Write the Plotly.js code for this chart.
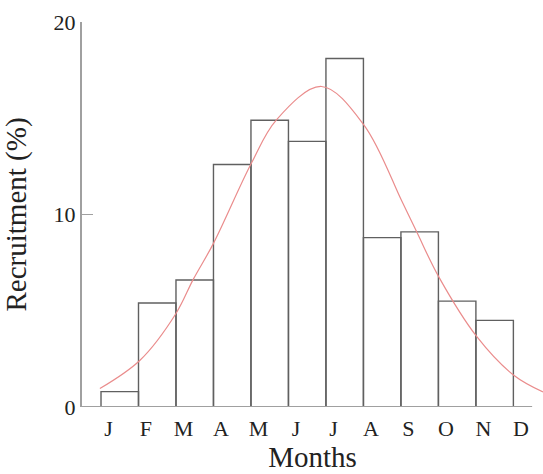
<!DOCTYPE html>
<html>
<head>
<meta charset="utf-8">
<script src="https://cdn.plot.ly/plotly-3.0.1.min.js"></script>
<style>html,body{margin:0;padding:0;background:#fff;}#chart{width:543px;height:474px;}</style>
</head>
<body>
<div id="chart"></div>
<script>
// Month labels (12 ticks) and recruitment (%) for the 11 bars
var monthLabels = ['J','F','M','A','M','J','J','A','S','O','N','D'];
var recruitment = [0.8, 5.4, 6.6, 12.6, 14.9, 13.8, 18.1, 8.8, 9.1, 5.5, 4.5];
// Fitted curve (x in month units, y in %)
var curveX = [-0.03, 1.04, 2.0, 2.46, 3.0, 4.01, 4.68, 5.88, 7.01, 8.03, 8.42, 9.01, 10.03, 11.01, 11.79];
var curveY = [0.96, 2.43, 4.86, 6.63, 8.5, 12.66, 14.92, 16.65, 14.66, 10.67, 9.1, 6.76, 3.64, 1.65, 0.78];

var barX = recruitment.map(function(v, i){ return i + 0.5; });
var tickX = monthLabels.map(function(m, i){ return i + 0.2; });

var serif = 'Liberation Serif, Times New Roman, serif';

var traces = [
  {
    type: 'bar', x: barX, y: recruitment, width: 1,
    marker: {color: 'rgba(255,255,255,0)', line: {color: '#606060', width: 1.4}},
    hoverinfo: 'y', showlegend: false
  },
  {
    type: 'scatter', mode: 'lines', x: curveX, y: curveY,
    line: {color: 'rgb(234,140,140)', width: 1.2, shape: 'spline', smoothing: 1},
    showlegend: false
  }
];

var layout = {
  width: 543, height: 474,
  margin: {l: 82, r: 0, t: 22, b: 67},
  paper_bgcolor: '#fff', plot_bgcolor: '#fff',
  showlegend: false,
  font: {family: serif, color: '#222'},
  xaxis: {
    range: [-0.507, 11.79],
    tickmode: 'array', tickvals: tickX, ticktext: monthLabels,
    ticks: '', showgrid: false, zeroline: false, showline: false,
    tickfont: {family: serif, size: 22, color: '#222'},
    ticklabelstandoff: 6,
    title: {text: 'Months', font: {family: serif, size: 29, color: '#222'}, standoff: 1},
    automargin: false, fixedrange: true
  },
  yaxis: {
    range: [0, 20],
    tickmode: 'array', tickvals: [0, 10, 20], ticktext: ['0', '10', '20'],
    ticks: 'inside', ticklen: 11, tickwidth: 1.6, tickcolor: '#a0a0a0',
    showline: true, linecolor: '#a0a0a0', linewidth: 2,
    showgrid: false, zeroline: false,
    tickfont: {family: serif, size: 22, color: '#222'},
    ticklabelstandoff: 0,
    title: {text: 'Recruitment (%)', font: {family: serif, size: 29, color: '#222'}, standoff: 18},
    automargin: false, fixedrange: true
  },
  shapes: [
    {type: 'line', xref: 'x', yref: 'y', x0: -0.507, x1: 11.5, y0: 0, y1: 0,
     line: {color: '#a0a0a0', width: 2}, layer: 'above'}
  ]
};

Plotly.newPlot('chart', traces, layout, {displayModeBar: false, staticPlot: true});
</script>
</body>
</html>
